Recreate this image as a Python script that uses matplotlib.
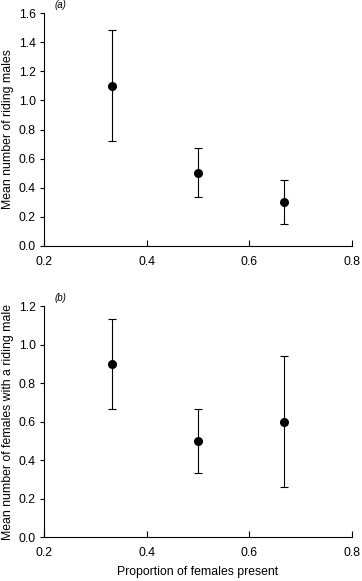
import matplotlib
matplotlib.use("Agg")
import matplotlib.pyplot as plt

plt.rcParams['font.family'] = ['Liberation Sans', 'DejaVu Sans']

# proportion of females present
prop = [1 / 3, 0.5, 2 / 3]

# (a) mean number of riding males
males_mean = [1.10, 0.50, 0.30]
males_lo = [0.72, 0.335, 0.15]
males_hi = [1.48, 0.67, 0.455]

# (b) mean number of females with a riding male
fem_mean = [0.90, 0.50, 0.60]
fem_lo = [0.665, 0.335, 0.26]
fem_hi = [1.13, 0.665, 0.94]

fig = plt.figure(figsize=(3.62, 5.81), dpi=100)
ax1 = fig.add_axes([0.1215, 0.5766, 0.851, 0.401])
ax2 = fig.add_axes([0.1215, 0.0757, 0.851, 0.3976])


def panel(ax, mean, lo, hi, ymax, yticks, ylabel, tag):
    err = [[m - l for m, l in zip(mean, lo)], [h - m for m, h in zip(mean, hi)]]
    ax.errorbar(prop, mean, yerr=err, fmt='o', color='black', ms=5.5,
                elinewidth=0.8, capsize=3, capthick=0.8)
    ax.set_xlim(0.2, 0.8)
    ax.set_ylim(0, ymax)
    ax.set_xticks([0.2, 0.4, 0.6, 0.8])
    ax.set_xticklabels(['0.2', '0.4', '0.6', '0.8'])
    ax.set_yticks(yticks)
    ax.set_yticklabels([f'{t:.1f}' for t in yticks])
    ax.spines['top'].set_visible(False)
    ax.spines['right'].set_visible(False)
    ax.spines['left'].set_linewidth(0.8)
    ax.spines['bottom'].set_linewidth(0.8)
    ax.tick_params(axis='x', direction='in', length=4, width=0.8, labelsize=8.8, pad=7)
    ax.tick_params(axis='y', direction='out', length=3, width=0.8, labelsize=8.8, pad=3)
    ax.set_ylabel(ylabel, fontsize=8.8, labelpad=3)
    ax.text(0.035, 1.035, f'({tag})', transform=ax.transAxes, fontsize=7,
            va='center', style='italic')


panel(ax1, males_mean, males_lo, males_hi, 1.6,
      [0.0, 0.2, 0.4, 0.6, 0.8, 1.0, 1.2, 1.4, 1.6],
      'Mean number of riding males', 'a')
panel(ax2, fem_mean, fem_lo, fem_hi, 1.2,
      [0.0, 0.2, 0.4, 0.6, 0.8, 1.0, 1.2],
      'Mean number of females with a riding male', 'b')
ax2.set_xlabel('Proportion of females present', fontsize=8.8, labelpad=5)

fig.savefig('out.png', dpi=100)
